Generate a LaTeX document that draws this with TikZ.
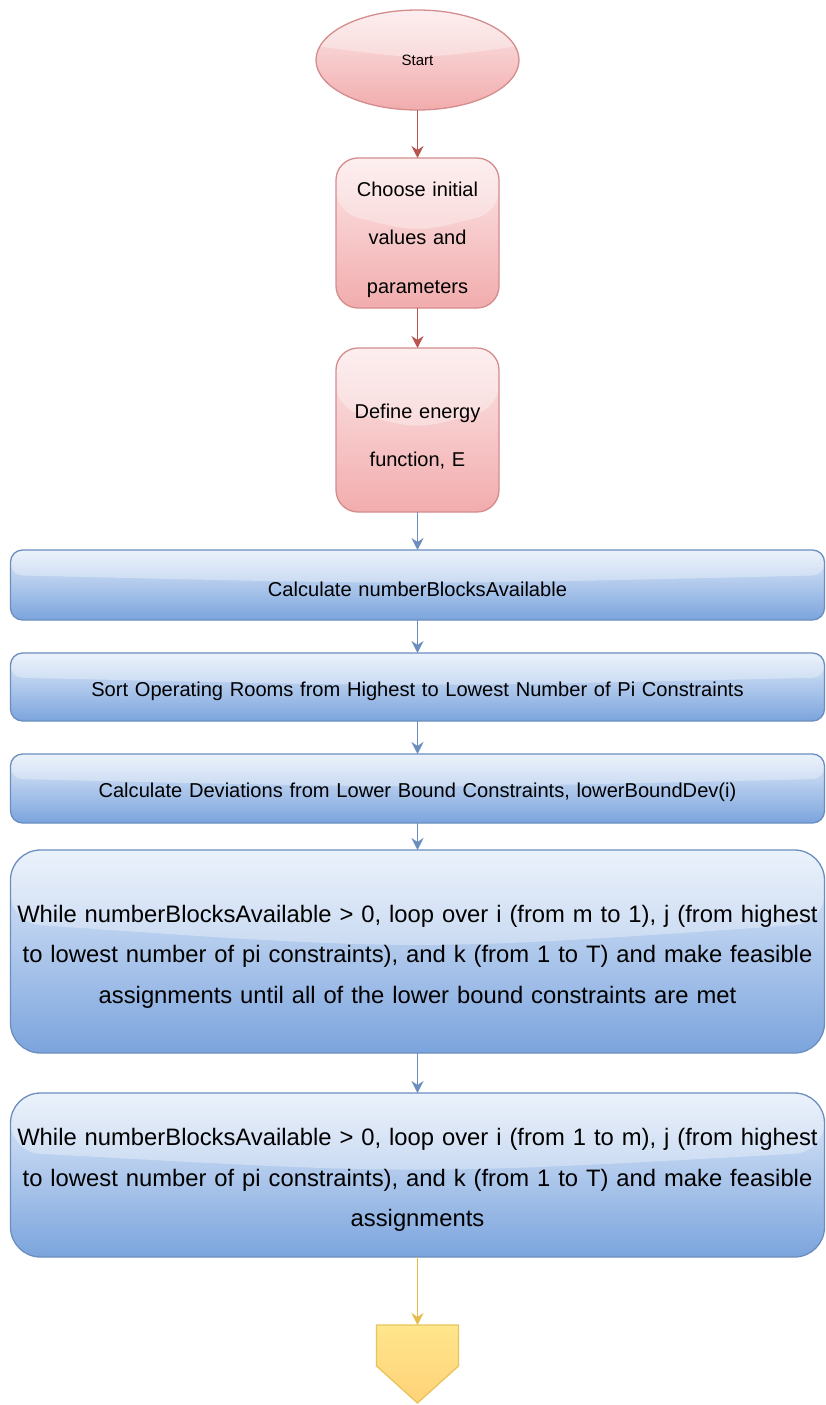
\documentclass[tikz,border=0pt]{standalone}
\usepackage{fontspec}
\setmainfont{Liberation Sans}
\usetikzlibrary{
    arrows.meta,
    positioning,
    calc,
    shapes.geometric
}

\definecolor{pinkTop}{HTML}{FCE7E8}
\definecolor{pinkBottom}{HTML}{F2ACAD}
\definecolor{pinkLine}{HTML}{D48C8D}
\definecolor{redArrow}{HTML}{B85450}
\definecolor{blueTop}{HTML}{E2ECFA}
\definecolor{blueBottom}{HTML}{7BA4DD}
\definecolor{blueLine}{HTML}{6C8EBF}
\definecolor{yellowTop}{HTML}{FFE68C}
\definecolor{yellowBottom}{HTML}{FFD278}
\definecolor{yellowLine}{HTML}{E9C35C}
\definecolor{yellowArrow}{HTML}{E8BC4C}

\tikzset{
  glossy/.style={
    path picture={
      \fill[white, opacity=0.32]
        (path picture bounding box.north west)
        -- ($(path picture bounding box.north west)!0.36!(path picture bounding box.south west)$)
        .. controls ($(path picture bounding box.north)!0.5!(path picture bounding box.south)$)
        .. ($(path picture bounding box.north east)!0.36!(path picture bounding box.south east)$)
        -- (path picture bounding box.north east) -- cycle;
    }
  },
  pinkbox/.style={
    draw=pinkLine,
    line width=1.3pt,
    outer sep=0pt,
    top color=pinkTop,
    bottom color=pinkBottom,
    glossy,
    rounded corners=22pt,
    minimum width=163pt,
    text width=150pt,
    align=center,
    font=\fontsize{20}{48.5}\selectfont,
    execute at begin node={\rule{0pt}{28pt}}
  },
  bluebox/.style={
    draw=blueLine,
    line width=1.3pt,
    outer sep=0pt,
    top color=blueTop,
    bottom color=blueBottom,
    glossy,
    rounded corners=12pt,
    minimum width=814pt,
    text width=808pt,
    inner sep=1pt,
    align=center,
    font=\fontsize{20.1}{24}\selectfont,
    execute at begin node={\rule{0pt}{23pt}}
  },
  bigbluebox/.style={
    bluebox,
    rounded corners=30pt,
    font=\fontsize{23.8}{40.5}\selectfont,
    execute at begin node={\rule{0pt}{27pt}}
  },
  redarrow/.style={
    draw=redArrow,
    line width=1.8pt,
    -{Stealth[length=12pt, width=12pt, inset=4pt]}
  },
  bluearrow/.style={redarrow, draw=blueLine},
  yellowarrow/.style={redarrow, draw=yellowArrow}
}

\begin{document}
\begin{tikzpicture}[x=1pt, y=1pt]

  \useasboundingbox (0,0) rectangle (825,-1405);

  % start {{{
  \node[
    ellipse,
    draw=pinkLine,
    line width=1.3pt,
    outer sep=0pt,
    top color=pinkTop,
    bottom color=pinkBottom,
    glossy,
    minimum width=203pt,
    minimum height=100pt,
    font=\fontsize{15}{18}\selectfont
  ] (start) at (417.5,-60) {Start};
  % }}}

  % pink steps {{{
  \node[
    pinkbox,
    minimum height=150pt,
    below=48pt of start
  ] (choose) {Choose initial\\values and\\parameters};

  \node[
    pinkbox,
    minimum height=164pt,
    below=40pt of choose
  ] (energy) {Define energy\\function, E};
  % }}}

  % blue steps {{{
  \node[
    bluebox,
    minimum height=70pt,
    below=38pt of energy
  ] (blocks) {Calculate numberBlocksAvailable};

  \node[
    bluebox,
    minimum height=68pt,
    below=33pt of blocks
  ] (sort) {Sort Operating Rooms from Highest to Lowest Number of Pi Constraints};

  \node[
    bluebox,
    minimum height=69pt,
    below=33pt of sort
  ] (deviation) {Calculate Deviations from Lower Bound Constraints, lowerBoundDev(i)};

  \node[
    bigbluebox,
    minimum height=203pt,
    below=27pt of deviation
  ] (lowerloop) {While numberBlocksAvailable > 0, loop over i (from m to 1), j (from highest\\
    to lowest number of pi constraints), and k (from 1 to T) and make feasible\\
    assignments until all of the lower bound constraints are met};

  \node[
    bigbluebox,
    minimum height=164pt,
    below=40pt of lowerloop
  ] (upperloop) {While numberBlocksAvailable > 0, loop over i (from 1 to m), j (from highest\\
    to lowest number of pi constraints), and k (from 1 to T) and make feasible\\
    assignments};
  % }}}

  % off page connector {{{
  \node[
    minimum width=82pt,
    minimum height=78pt,
    inner sep=0pt,
    outer sep=0pt,
    below=68pt of upperloop
  ] (stop) {};
  \shade[
    draw=yellowLine,
    line width=1.3pt,
    top color=yellowTop,
    bottom color=yellowBottom
  ] (stop.north west) -- (stop.north east)
    -- ($(stop.north east)+(0,-41)$) -- (stop.south)
    -- ($(stop.north west)+(0,-41)$) -- cycle;
  % }}}

  % connectors {{{
  \draw[redarrow] (start) -- (choose);
  \draw[redarrow] (choose) -- (energy);
  \draw[bluearrow] (energy) -- (blocks);
  \draw[bluearrow] (blocks) -- (sort);
  \draw[bluearrow] (sort) -- (deviation);
  \draw[bluearrow] (deviation) -- (lowerloop);
  \draw[bluearrow] (lowerloop) -- (upperloop);
  \draw[yellowarrow] (upperloop) -- (stop.north);
  % }}}

\end{tikzpicture}
\end{document}
